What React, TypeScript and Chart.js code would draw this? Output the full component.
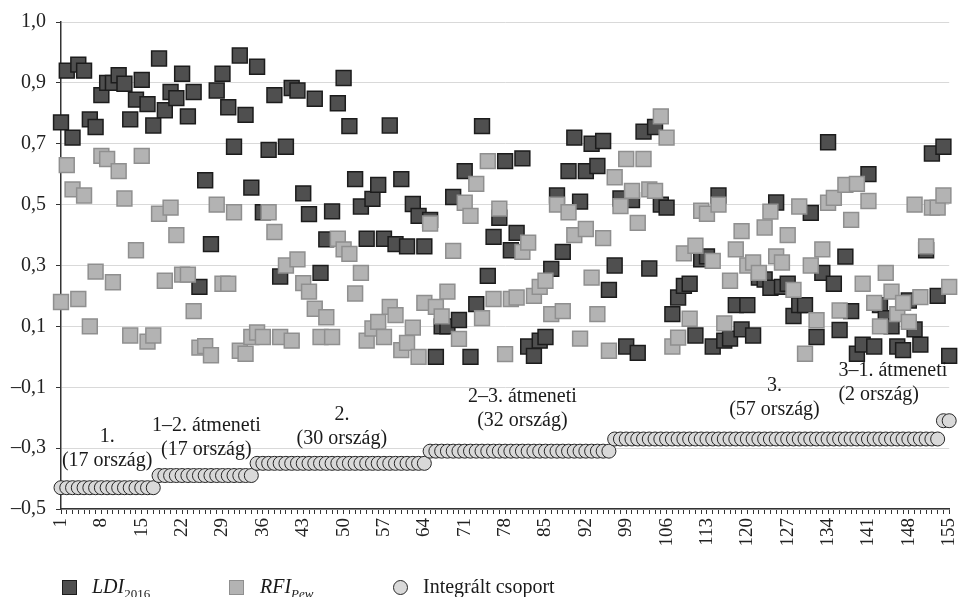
import React, { useEffect, useRef } from 'react';
import { Chart, registerables } from 'chart.js';

Chart.register(...registerables);

// ---------- DATA ----------
const categories: string[] = Array.from({ length: 155 }, (_, i) => String(i + 1));

const ldi2016: number[] = [
  0.77, 0.94, 0.72, 0.96, 0.94, 0.78, 0.755, 0.86, 0.90, 0.90,
  0.925, 0.897, 0.78, 0.845, 0.91, 0.83, 0.76, 0.98, 0.81, 0.87,
  0.85, 0.93, 0.79, 0.87, 0.23, 0.58, 0.37, 0.875, 0.93, 0.82,
  0.69, 0.99, 0.795, 0.556, 0.953, 0.475, 0.68, 0.86, 0.264, 0.69,
  0.883, 0.875, 0.537, 0.469, 0.848, 0.276, 0.386, 0.478, 0.833, 0.916,
  0.758, 0.584, 0.494, 0.388, 0.519, 0.565, 0.388, 0.76, 0.37, 0.584,
  0.363, 0.502, 0.463, 0.363, 0.45, 0.0, 0.10, 0.10, 0.525, 0.121,
  0.61, 0.0, 0.173, 0.758, 0.266, 0.394, 0.457, 0.643, 0.35, 0.407,
  0.652, 0.034, 0.003, 0.053, 0.065, 0.289, 0.53, 0.345, 0.61, 0.72,
  0.51, 0.61, 0.70, 0.627, 0.709, 0.22, 0.30, 0.52, 0.034, 0.515,
  0.013, 0.74, 0.29, 0.755, 0.50, 0.49, 0.14, 0.195, 0.233, 0.24,
  0.07, 0.32, 0.33, 0.034, 0.53, 0.053, 0.06, 0.17, 0.09, 0.17,
  0.07, 0.26, 0.254, 0.227, 0.507, 0.23, 0.24, 0.134, 0.17, 0.17,
  0.473, 0.065, 0.276, 0.705, 0.24, 0.088, 0.329, 0.15, 0.01, 0.04,
  0.60, 0.034, 0.17, 0.127, 0.10, 0.034, 0.022, 0.185, 0.09, 0.04,
  0.35, 0.668, 0.20, 0.69, 0.003,
];

const rfiPew: number[] = [
  0.18, 0.63, 0.55, 0.19, 0.53, 0.10, 0.28, 0.66, 0.65, 0.245,
  0.61, 0.52, 0.07, 0.35, 0.66, 0.05, 0.07, 0.47, 0.25, 0.49,
  0.40, 0.27, 0.27, 0.15, 0.03, 0.035, 0.005, 0.50, 0.24, 0.24,
  0.475, 0.02, 0.01, 0.065, 0.08, 0.065, 0.475, 0.41, 0.065, 0.30,
  0.053, 0.32, 0.242, 0.214, 0.158, 0.065, 0.13, 0.065, 0.388, 0.353,
  0.338, 0.208, 0.276, 0.053, 0.093, 0.115, 0.065, 0.164, 0.137, 0.022,
  0.046, 0.096, 0.0, 0.177, 0.438, 0.164, 0.133, 0.214, 0.348, 0.059,
  0.506, 0.463, 0.568, 0.127, 0.643, 0.19, 0.487, 0.009, 0.19, 0.195,
  0.345, 0.375, 0.20, 0.23, 0.25, 0.14, 0.50, 0.15, 0.475, 0.40,
  0.06, 0.42, 0.26, 0.14, 0.39, 0.02, 0.59, 0.495, 0.65, 0.545,
  0.44, 0.65, 0.55, 0.545, 0.79, 0.72, 0.034, 0.063, 0.34, 0.125,
  0.365, 0.48, 0.47, 0.315, 0.50, 0.11, 0.25, 0.353, 0.413, 0.30,
  0.31, 0.276, 0.425, 0.477, 0.33, 0.31, 0.40, 0.22, 0.494, 0.01,
  0.30, 0.12, 0.353, 0.506, 0.522, 0.152, 0.565, 0.45, 0.568, 0.24,
  0.512, 0.177, 0.10, 0.276, 0.214, 0.14, 0.177, 0.115, 0.50, 0.196,
  0.363, 0.49, 0.49, 0.53, 0.23,
];

// Integrated group: level of each group and number of countries in it
const groupLevels: number[] = [-0.43, -0.39, -0.35, -0.31, -0.27, -0.21];
const groupSizes: number[] = [17, 17, 30, 32, 57, 2];
const integrated: number[] = groupSizes.flatMap((n, g) => Array(n).fill(groupLevels[g]));

const yTickLabels: string[] = ['–0,5', '–0,3', '–0,1', '0,1', '0,3', '0,5', '0,7', '0,9', '1,0'];

const groupTitles: string[][] = [
  ['1.', '(17 ország)'],
  ['1–2. átmeneti', '(17 ország)'],
  ['2.', '(30 ország)'],
  ['2–3. átmeneti', '(32 ország)'],
  ['3.', '(57 ország)'],
  ['3–1. átmeneti', '(2 ország)'],
];

// ---------- LAYOUT / STYLE ----------
const FONT = "'Liberation Serif', 'Times New Roman', serif";
const titleAnchors = [
  { cat: 9.0, val: -0.263, align: 'center' as CanvasTextAlign },
  { cat: 26.2, val: -0.225, align: 'center' as CanvasTextAlign },
  { cat: 49.7, val: -0.19, align: 'center' as CanvasTextAlign },
  { cat: 81.0, val: -0.13, align: 'center' as CanvasTextAlign },
  { cat: 124.7, val: -0.095, align: 'center' as CanvasTextAlign },
  { cat: 135.8, val: -0.045, align: 'left' as CanvasTextAlign },
];

const titlePlugin = {
  id: 'groupTitles',
  afterDatasetsDraw(chart: any) {
    const { ctx, scales } = chart;
    const xs = scales.x;
    const ys = scales.y;
    ctx.save();
    ctx.font = `20px ${FONT}`;
    ctx.fillStyle = '#1a1a1a';
    ctx.textBaseline = 'middle';
    groupTitles.forEach((lines, i) => {
      const a = titleAnchors[i];
      const x = xs.getPixelForValue(a.cat - 1);
      const y = ys.getPixelForValue(a.val);
      ctx.textAlign = a.align;
      lines.forEach((t, j) => ctx.fillText(t, x, y + j * 24));
    });
    ctx.restore();
  },
};

export default function App() {
  const canvasRef = useRef<HTMLCanvasElement | null>(null);

  useEffect(() => {
    const canvas = canvasRef.current;
    if (!canvas) return;
    const chart = new Chart(canvas, {
      type: 'line',
      data: {
        labels: categories,
        datasets: [
          {
            label: 'LDI2016',
            data: ldi2016,
            showLine: false,
            pointStyle: 'rect',
            pointRadius: 10.5,
            pointBackgroundColor: '#4f4f4f',
            pointBorderColor: '#1c1c1c',
            pointBorderWidth: 1.5,
            clip: false,
            order: 3,
          },
          {
            label: 'RFIPew',
            data: rfiPew,
            showLine: false,
            pointStyle: 'rect',
            pointRadius: 10.5,
            pointBackgroundColor: '#b3b3b3',
            pointBorderColor: '#8f8f8f',
            pointBorderWidth: 1.5,
            clip: false,
            order: 2,
          },
          {
            label: 'Integrált csoport',
            data: integrated,
            showLine: false,
            pointStyle: 'circle',
            pointRadius: 7,
            pointBackgroundColor: '#d9d9d9',
            pointBorderColor: '#262626',
            pointBorderWidth: 1,
            clip: false,
            order: 1,
          },
        ] as any,
      },
      options: {
        responsive: false,
        animation: false,
        events: [],
        layout: { padding: { top: 18, right: 10, bottom: 40, left: 0 } },
        plugins: {
          legend: { display: false },
          tooltip: { enabled: false },
        },
        scales: {
          x: {
            type: 'category',
            offset: false,
            grid: {
              display: true,
              drawOnChartArea: false,
              drawTicks: true,
              tickLength: 5,
              tickColor: '#333',
              lineWidth: 1,
            },
            border: { display: true, color: '#333', width: 1.5 },
            ticks: {
              autoSkip: false,
              maxRotation: 90,
              minRotation: 90,
              padding: 4,
              color: '#222',
              font: { family: FONT, size: 19 },
              callback: (_v: any, i: number) => (i % 7 === 0 ? categories[i] : ''),
            },
            afterFit: (s: any) => {
              s.height = 48;
            },
          },
          y: {
            min: -0.5,
            max: 1.1,
            ticks: {
              stepSize: 0.2,
              padding: 10,
              color: '#222',
              font: { family: FONT, size: 20 },
              callback: (_v: any, i: number) => yTickLabels[i],
            },
            grid: {
              color: '#d9d9d9',
              lineWidth: 1,
              drawTicks: true,
              tickLength: 5,
              tickColor: '#333',
            },
            border: { display: true, color: '#333', width: 1.5 },
            afterFit: (s: any) => {
              s.width = 61;
            },
          },
        } as any,
      },
      plugins: [titlePlugin],
    });
    return () => chart.destroy();
  }, []);

  const legendText: React.CSSProperties = {
    position: 'absolute',
    top: 575,
    fontFamily: FONT,
    fontSize: 20,
    color: '#1a1a1a',
    lineHeight: '23px',
    whiteSpace: 'nowrap',
  };
  const sub: React.CSSProperties = { fontSize: 13, verticalAlign: 'baseline', position: 'relative', top: 5 };

  return (
    <div style={{ position: 'fixed', left: 0, top: 0, width: 976, height: 597, background: '#fff' }}>
      <canvas ref={canvasRef} width={976} height={597} style={{ display: 'block', width: 976, height: 597 }} />
      <div style={{ position: 'absolute', left: 62, top: 580, width: 15, height: 15, boxSizing: 'border-box', background: '#4f4f4f', border: '1.5px solid #1c1c1c' }} />
      <div style={{ ...legendText, left: 92 }}>
        <i>LDI</i>
        <span style={sub}>2016</span>
      </div>
      <div style={{ position: 'absolute', left: 229, top: 580, width: 15, height: 15, boxSizing: 'border-box', background: '#b3b3b3', border: '1.5px solid #8f8f8f' }} />
      <div style={{ ...legendText, left: 260 }}>
        <i>RFI</i>
        <i style={sub}>Pew</i>
      </div>
      <div style={{ position: 'absolute', left: 393, top: 580, width: 15, height: 15, boxSizing: 'border-box', borderRadius: '50%', background: '#d9d9d9', border: '1px solid #262626' }} />
      <div style={{ ...legendText, left: 423 }}>Integrált csoport</div>
    </div>
  );
}
